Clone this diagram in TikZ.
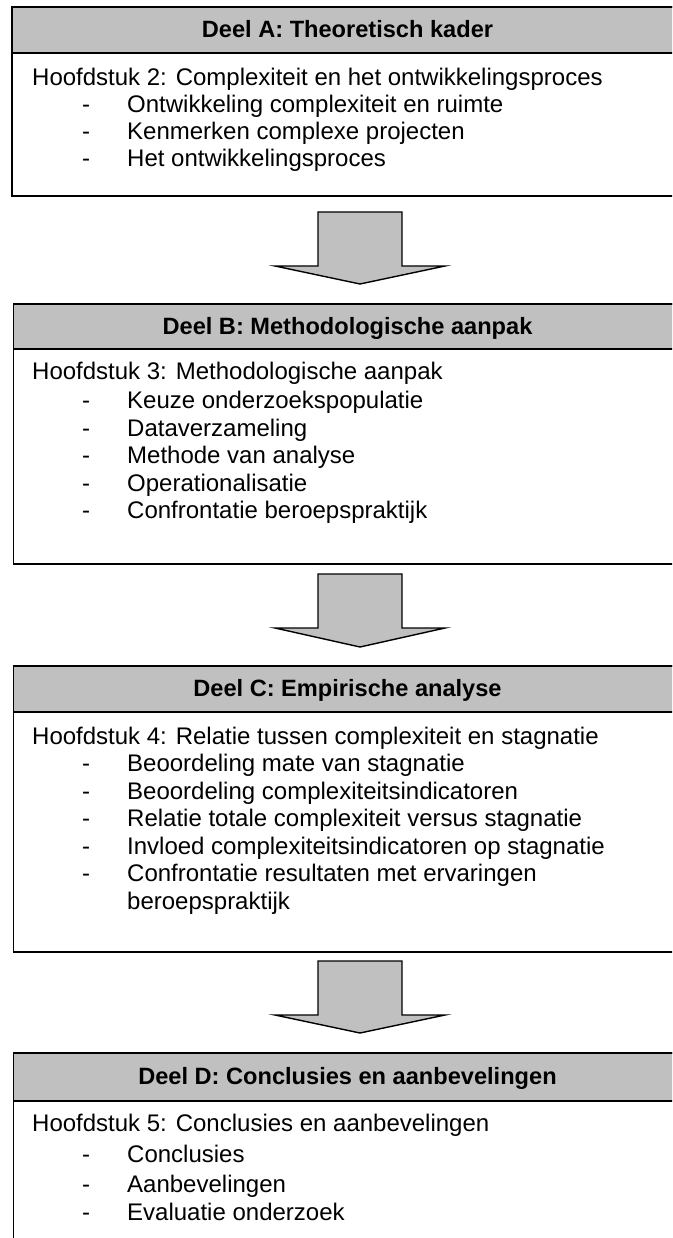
\documentclass[tikz,border=0pt]{standalone}
\usepackage{fontspec}
\setmainfont{Liberation Sans}
\definecolor{headgray}{HTML}{C0C0C0}
\begin{document}
\begin{tikzpicture}[x=1pt,y=-1pt,
  frame/.style={draw=black, line width=1.6pt, fill=white, rectangle, inner sep=0pt, anchor=north west},
  head/.style={draw=black, line width=1.6pt, fill=headgray, rectangle, inner sep=0pt, anchor=north west},
  htext/.style={anchor=base, inner sep=0pt, font=\fontsize{23.6}{28}\selectfont\bfseries},
  btext/.style={anchor=base west, inner sep=0pt, font=\fontsize{24}{27.5}\selectfont},
  dashmark/.style={anchor=base, inner sep=0pt, font=\fontsize{24}{27.5}\selectfont},
  bigarrow/.style={draw=black, line width=1.4pt, fill=headgray, line join=miter},
]
\useasboundingbox (0,0) rectangle (672,1238);
\clip (0,0) rectangle (672,1238);

% ---------- Deel A ----------
\node[frame, minimum width=673pt, minimum height=189pt] (boxA) at (11,6) {};
\node[head, minimum width=673pt, minimum height=46pt] (headA) at (11,6) {};
\node[htext] (titleA) at (347.5,37.6) {Deel A: Theoretisch kader};
\node[btext] (a0) at (32,85.6) {Hoofdstuk 2: Complexiteit en het ontwikkelingsproces};
\node[dashmark] (a1d) at (86,113) {-};
\node[btext] (a1) at (127,113) {Ontwikkeling complexiteit en ruimte};
\node[dashmark] (a2d) at (86,140) {-};
\node[btext] (a2) at (127,140) {Kenmerken complexe projecten};
\node[dashmark] (a3d) at (86,167) {-};
\node[btext] (a3) at (127,167) {Het ontwikkelingsproces};

% arrow 1
\draw[bigarrow] (318,212) -- (402,212) -- (402,266) -- (445,266) -- (360,284) -- (275,266) -- (318,266) -- cycle;

% ---------- Deel B ----------
\node[frame, minimum width=672pt, minimum height=260pt] (boxB) at (12.5,303) {};
\node[head, minimum width=672pt, minimum height=45pt] (headB) at (12.5,303) {};
\node[htext] (titleB) at (347.5,334) {Deel B: Methodologische aanpak};
\node[btext] (b0) at (32,379.6) {Hoofdstuk 3: Methodologische aanpak};
\node[dashmark] (b1d) at (86,408.6) {-};
\node[btext] (b1) at (127,408.6) {Keuze onderzoekspopulatie};
\node[dashmark] (b2d) at (86,436.1) {-};
\node[btext] (b2) at (127,436.1) {Dataverzameling};
\node[dashmark] (b3d) at (86,463.6) {-};
\node[btext] (b3) at (127,463.6) {Methode van analyse};
\node[dashmark] (b4d) at (86,491.1) {-};
\node[btext] (b4) at (127,491.1) {Operationalisatie};
\node[dashmark] (b5d) at (86,518.6) {-};
\node[btext] (b5) at (127,518.6) {Confrontatie beroepspraktijk};

% arrow 2
\draw[bigarrow] (318,574) -- (402,574) -- (402,628) -- (445,628) -- (360,647) -- (275,628) -- (318,628) -- cycle;

% ---------- Deel C ----------
\node[frame, minimum width=672pt, minimum height=286pt] (boxC) at (12.5,665) {};
\node[head, minimum width=672pt, minimum height=46pt] (headC) at (12.5,665) {};
\node[htext] (titleC) at (347.5,696.4) {Deel C: Empirische analyse};
\node[btext] (c0) at (32,744.6) {Hoofdstuk 4: Relatie tussen complexiteit en stagnatie};
\node[dashmark] (c1d) at (86,771.6) {-};
\node[btext] (c1) at (127,771.6) {Beoordeling mate van stagnatie};
\node[dashmark] (c2d) at (86,799.1) {-};
\node[btext] (c2) at (127,799.1) {Beoordeling complexiteitsindicatoren};
\node[dashmark] (c3d) at (86,826.6) {-};
\node[btext] (c3) at (127,826.6) {Relatie totale complexiteit versus stagnatie};
\node[dashmark] (c4d) at (86,854.1) {-};
\node[btext] (c4) at (127,854.1) {Invloed complexiteitsindicatoren op stagnatie};
\node[dashmark] (c5d) at (86,881.6) {-};
\node[btext] (c5) at (127,881.6) {Confrontatie resultaten met ervaringen};
\node[btext] (c5b) at (127,909.1) {beroepspraktijk};

% arrow 3
\draw[bigarrow] (318,961) -- (402,961) -- (402,1015) -- (445,1015) -- (360,1033) -- (275,1015) -- (318,1015) -- cycle;

% ---------- Deel D ----------
\node[frame, minimum width=672pt, minimum height=230pt] (boxD) at (12.5,1052) {};
\node[head, minimum width=672pt, minimum height=48pt] (headD) at (12.5,1052) {};
\node[htext] (titleD) at (347.5,1084.4) {Deel D: Conclusies en aanbevelingen};
\node[btext] (d0) at (32,1131.6) {Hoofdstuk 5: Conclusies en aanbevelingen};
\node[dashmark] (d1d) at (86,1162.6) {-};
\node[btext] (d1) at (127,1162.6) {Conclusies};
\node[dashmark] (d2d) at (86,1192.6) {-};
\node[btext] (d2) at (127,1192.6) {Aanbevelingen};
\node[dashmark] (d3d) at (86,1220.6) {-};
\node[btext] (d3) at (127,1220.6) {Evaluatie onderzoek};
\end{tikzpicture}
\end{document}
